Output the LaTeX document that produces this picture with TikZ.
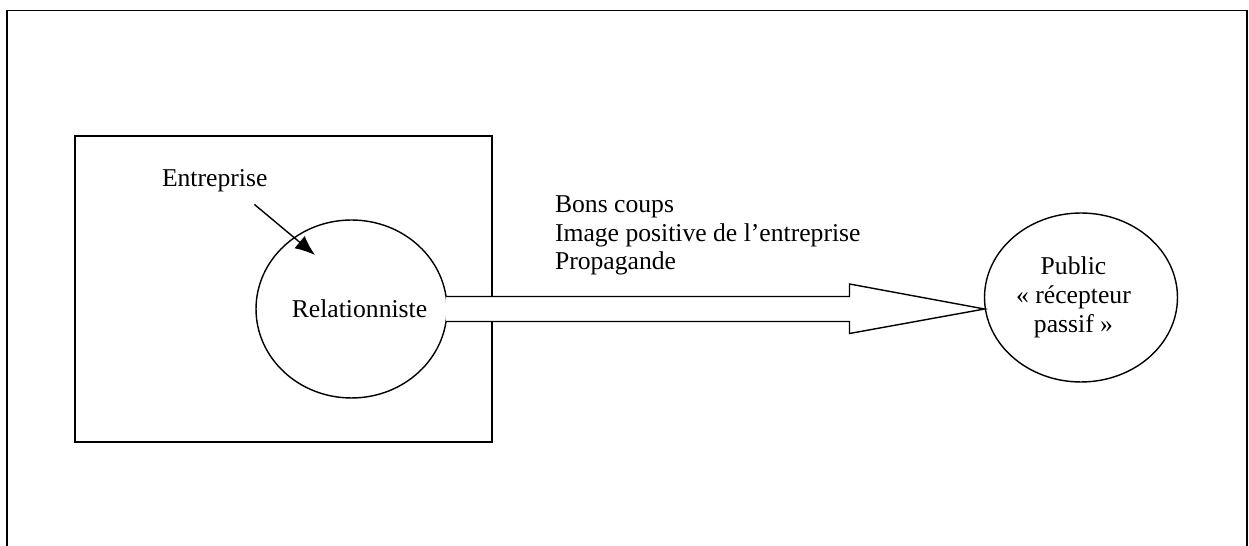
\documentclass[tikz,border=0pt]{standalone}
\usepackage{fontspec}
\setmainfont{Liberation Serif}
\usetikzlibrary{shapes.geometric,arrows.meta,calc}
\begin{document}
\begin{tikzpicture}[x=0.02cm,y=-0.02cm,inner sep=0pt,outer sep=0pt,line width=0.8pt,
every node/.style={font=\fontsize{14.6}{16.5}\selectfont},
bulle/.style={draw,ellipse,fill=white,align=center,inner xsep=-0.4cm},
fleche/.style={draw,fill=white,line join=miter}]
\useasboundingbox (0,0) rectangle (1249,546);
\draw (7,546) -- (7,10.5) -- (1247,10.5) -- (1247,546);
\draw (75,136) rectangle (492,442);
\draw (162,187) node[anchor=base west] (ent) {Entreprise};
\draw (351.5,309) node[bulle,minimum width=3.82cm,minimum height=3.56cm] (rel) {\hspace{0.32cm}Relationniste};
\draw (1081,297.5) node[bulle,minimum width=3.86cm,minimum height=3.38cm] (pub) {\raisebox{-0.1cm}{\begin{tabular}{@{}c@{}}Public\\« récepteur\\passif »\end{tabular}}\hspace{0.3cm}};
\draw (555,270) node[anchor=base west,align=left] (msg) {Bons coups\\Image positive de l’entreprise\\Propagande};
\coordinate (tip) at (pub.west |- rel.east);
\coordinate (hb) at ($(tip)+(-135,0)$);
\coordinate (cible) at (315,255);
\draw[fleche] ($(rel.east)+(-1,-12.5)$) -- ($(hb)+(0,-12.5)$) -- ($(hb)+(0,-25)$) -- (tip)
  -- ($(hb)+(0,24.5)$) -- ($(hb)+(0,12.5)$) -- ($(rel.east)+(-1,12.5)$);
\draw[-{Latex[length=4mm,width=3.2mm]}] ([xshift=-0.26cm,yshift=-0.24cm]ent.south east) -- (cible);
\end{tikzpicture}
\end{document}
